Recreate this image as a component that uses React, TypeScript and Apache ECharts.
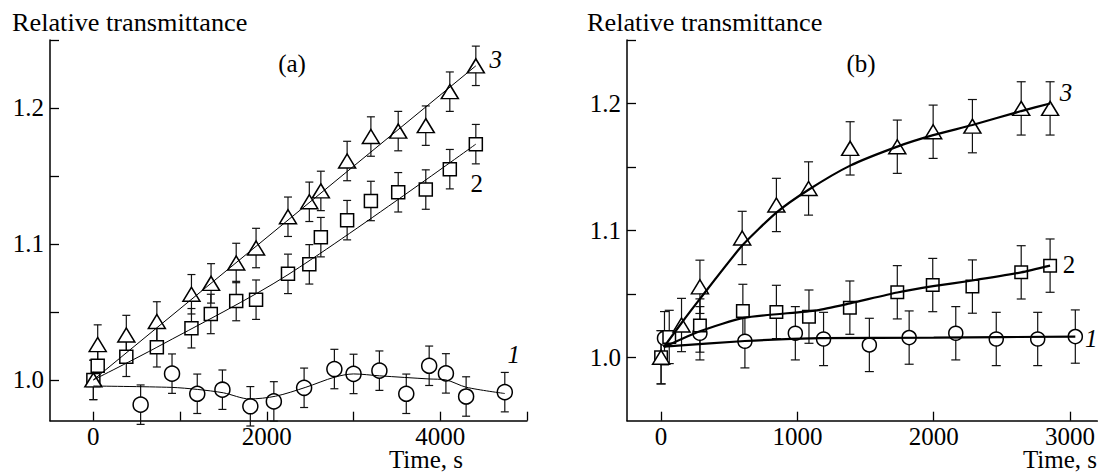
import React, { useEffect, useRef } from "react";
import * as echarts from "echarts";

// ---------- Panel (a) ----------
const A3_X = [0, 50, 380, 732, 1131, 1357, 1647, 1876, 2244, 2490, 2623, 2926, 3200, 3515, 3833, 4110, 4410];
const A3_Y = [1.0, 1.026, 1.033, 1.043, 1.063, 1.071, 1.086, 1.097, 1.120, 1.131, 1.139, 1.161, 1.179, 1.183, 1.187, 1.212, 1.231];
const A2_X = [0, 50, 380, 732, 1131, 1354, 1647, 1876, 2244, 2490, 2623, 2926, 3200, 3515, 3833, 4110, 4410];
const A2_Y = [1.0, 1.0105, 1.017, 1.024, 1.038, 1.0485, 1.058, 1.059, 1.078, 1.085, 1.105, 1.1175, 1.1316, 1.138, 1.140, 1.155, 1.1734];
const A1_X = [545, 907, 1198, 1488, 1810, 2081, 2430, 2779, 3000, 3298, 3608, 3872, 4065, 4298, 4744];
const A1_Y = [0.9818, 1.0046, 0.9898, 0.9928, 0.9806, 0.9842, 0.9942, 1.008, 1.0044, 1.0068, 0.9898, 1.0104, 1.0048, 0.9878, 0.991];
const A_ERR = 0.0145;
// fitted curves (a)
const FA3_X = [0, 4410];
const FA3_Y = [1.0, 1.231];
const FA2_X = [0, 732, 2244, 4410];
const FA2_Y = [1.0, 1.024, 1.0774, 1.1734];
const FA1_X = [0, 900, 1200, 1500, 1800, 2100, 2450, 2780, 3000, 3300, 3870, 4065, 4300, 4744];
const FA1_Y = [0.9955, 0.9945, 0.993, 0.9905, 0.986, 0.988, 0.9946, 1.002, 1.0044, 1.003, 1.0007, 1.0, 0.9946, 0.990];

// ---------- Panel (b) ----------
const B3_X = [0, 150, 285, 595, 846, 1082, 1387, 1733, 1996, 2284, 2642, 2854];
const B3_Y = [1.0, 1.0254, 1.0555, 1.094, 1.120, 1.133, 1.1646, 1.1659, 1.1777, 1.1821, 1.1961, 1.1961];
const B2_X = [0, 60, 285, 600, 846, 1085, 1385, 1733, 1993, 2284, 2642, 2854];
const B2_Y = [1.0, 1.016, 1.025, 1.0365, 1.0357, 1.032, 1.0391, 1.0512, 1.0569, 1.0557, 1.0669, 1.0722];
const B1_X = [25, 285, 615, 985, 1192, 1528, 1820, 2162, 2459, 2763, 3039];
const B1_Y = [1.015, 1.0189, 1.0126, 1.0189, 1.0144, 1.0097, 1.0155, 1.0189, 1.0144, 1.0144, 1.0163];
const B_ERR = 0.021;
const FB3_X = [20, 150, 285, 595, 846, 1082, 1387, 1733, 1996, 2284, 2642, 2854];
const FB3_Y = [1.008, 1.027, 1.046, 1.088, 1.114, 1.132, 1.151, 1.166, 1.175, 1.183, 1.194, 1.2];
const FB2_X = [20, 285, 607, 1143, 1387, 1733, 1996, 2284, 2642, 2854];
const FB2_Y = [1.008, 1.0205, 1.031, 1.037, 1.0425, 1.051, 1.056, 1.0605, 1.0669, 1.0722];
const FB1_X = [20, 614, 1166, 2000, 3039];
const FB1_Y = [1.0084, 1.0128, 1.015, 1.0155, 1.0163];

// ticks
const XA_TICKS = [0, 1000, 2000, 3000, 4000, 5000];
const XA_LABELS = [0, 2000, 4000];
const XB_TICKS = [0, 1000, 2000, 3000];
const Y_TICKS = [1.0, 1.05, 1.1, 1.15, 1.2, 1.25];
const Y_LABELS = [1.0, 1.1, 1.2];

const FONT = '"Liberation Serif", "Times New Roman", serif';
const FS = 25;

const pairs = (xs: number[], ys: number[]) => xs.map((x, i) => [x, ys[i]]);
const errData = (xs: number[], ys: number[], e: number) => xs.map((x, i) => [x, ys[i], e]);

function marks(xs: number[], ys: number[], text: string, italic: boolean, offset: number[]) {
  return xs.map((x, i) =>
    i === xs.length - 1
      ? {
          value: [x, ys[i]],
          label: {
            show: true,
            position: "inside",
            offset,
            formatter: text,
            fontStyle: italic ? "italic" : "normal",
            fontSize: FS,
            fontFamily: FONT,
            color: "#000",
          },
        }
      : [x, ys[i]]
  );
}

function errorSeries(idx: number, data: number[][], cap: number) {
  return {
    type: "custom",
    xAxisIndex: idx,
    yAxisIndex: idx,
    z: 2,
    silent: true,
    encode: { x: 0, y: 1 },
    data,
    renderItem: (params: any, api: any) => {
      const x = api.value(0);
      const y = api.value(1);
      const e = api.value(2);
      const t = api.coord([x, y + e]);
      const b = api.coord([x, y - e]);
      const st = { stroke: "#111", lineWidth: 1.2 };
      return {
        type: "group",
        children: [
          { type: "line", shape: { x1: t[0], y1: t[1], x2: b[0], y2: b[1] }, style: st },
          { type: "line", shape: { x1: t[0] - cap, y1: t[1], x2: t[0] + cap, y2: t[1] }, style: st },
          { type: "line", shape: { x1: b[0] - cap, y1: b[1], x2: b[0] + cap, y2: b[1] }, style: st },
        ],
      };
    },
  };
}

function scatterSeries(idx: number, data: any[], symbol: string, size: any) {
  return {
    type: "scatter",
    xAxisIndex: idx,
    yAxisIndex: idx,
    z: 3,
    symbol,
    symbolSize: size,
    itemStyle: { color: "#fff", borderColor: "#000", borderWidth: 1.5, opacity: 1 },
    data,
  };
}

function lineSeries(idx: number, data: number[][], width: number, smooth: number) {
  return {
    type: "line",
    xAxisIndex: idx,
    yAxisIndex: idx,
    z: 4,
    showSymbol: false,
    smooth,
    lineStyle: { color: "#000", width },
    data,
  };
}

function xAxis(idx: number, min: number, max: number, ticks: number[], labels: number[]) {
  return {
    type: "value",
    gridIndex: idx,
    min,
    max,
    axisLine: { show: true, onZero: false, lineStyle: { color: "#000", width: 1.5 } },
    axisTick: { show: true, inside: true, length: 9, customValues: ticks, lineStyle: { color: "#000", width: 1.3 } },
    axisLabel: {
      show: true,
      customValues: labels,
      margin: 7,
      lineHeight: 18,
      color: "#000",
      fontSize: FS,
      fontFamily: FONT,
      formatter: (v: number) => String(v),
    },
    splitLine: { show: false },
  };
}

function yAxis(idx: number, min: number, max: number) {
  return {
    type: "value",
    gridIndex: idx,
    min,
    max,
    axisLine: { show: true, onZero: false, lineStyle: { color: "#000", width: 1.5 } },
    axisTick: { show: true, inside: true, length: 9, customValues: Y_TICKS, lineStyle: { color: "#000", width: 1.3 } },
    axisLabel: {
      show: true,
      customValues: Y_LABELS,
      margin: 6,
      color: "#000",
      fontSize: FS,
      fontFamily: FONT,
      formatter: (v: number) => v.toFixed(1),
    },
    splitLine: { show: false },
  };
}

export default function App() {
  const ref = useRef<HTMLDivElement>(null);
  useEffect(() => {
    if (!ref.current) return;
    const chart = echarts.init(ref.current, undefined, { renderer: "svg" });
    const txt = (text: string, x: number, y: number, align: string, scaleX = 1, lineHeight = 25) => ({
      type: "text",
      x,
      y,
      scaleX,
      style: { text, fill: "#000", font: `${FS}px ${FONT}`, align, verticalAlign: "middle", lineHeight },
    });
    chart.setOption({
      animation: false,
      backgroundColor: "#fff",
      grid: [
        { left: 50, top: 40, width: 477, height: 380.7 },
        { left: 627, top: 40, width: 471, height: 380.7 },
      ],
      xAxis: [xAxis(0, -500, 5000, XA_TICKS, XA_LABELS), xAxis(1, -250, 3200, XB_TICKS, XB_TICKS)],
      yAxis: [yAxis(0, 0.97, 1.25), yAxis(1, 0.95, 1.25)],
      series: [
        errorSeries(0, errData(A3_X, A3_Y, A_ERR), 4),
        errorSeries(0, errData(A2_X, A2_Y, A_ERR), 4),
        errorSeries(0, errData(A1_X, A1_Y, A_ERR), 4),
        errorSeries(1, errData(B3_X, B3_Y, B_ERR), 4.5),
        errorSeries(1, errData(B2_X, B2_Y, B_ERR), 4.5),
        errorSeries(1, errData(B1_X, B1_Y, B_ERR), 4.5),
        scatterSeries(0, marks(A1_X, A1_Y, "1", true, [9, -38]), "circle", 15),
        scatterSeries(0, marks(A2_X, A2_Y, "2", false, [1, 39]), "rect", 13),
        scatterSeries(0, marks(A3_X, A3_Y, "3", true, [20, -6]), "triangle", [17, 14]),
        scatterSeries(1, marks(B1_X, B1_Y, "1", true, [16, 2]), "circle", 14),
        scatterSeries(1, marks(B2_X, B2_Y, "2", false, [19, -1]), "rect", 12.5),
        scatterSeries(1, marks(B3_X, B3_Y, "3", true, [16, -16]), "triangle", [17, 14]),
        lineSeries(0, pairs(FA3_X, FA3_Y), 1, 0),
        lineSeries(0, pairs(FA2_X, FA2_Y), 1, 0.3),
        lineSeries(0, pairs(FA1_X, FA1_Y), 1, 0.3),
        lineSeries(1, pairs(FB3_X, FB3_Y), 2.2, 0.2),
        lineSeries(1, pairs(FB2_X, FB2_Y), 2.2, 0.2),
        lineSeries(1, pairs(FB1_X, FB1_Y), 2.2, 0.2),
      ],
      graphic: [
        txt("Relative transmittance", 12, 23, "left", 1.05),
        txt("Relative transmittance", 587, 23, "left", 1.05),
        txt("(a)", 292, 63, "center"),
        txt("(b)", 861, 63, "center"),
        txt("Time, s", 463, 459, "right", 1, 18),
        txt("Time, s", 1097, 459, "right", 1, 18),
      ],
    });
    return () => chart.dispose();
  }, []);
  return (
    <div
      ref={ref}
      style={{ position: "fixed", left: 0, top: 0, width: 1098, height: 472, background: "#fff" }}
    />
  );
}
